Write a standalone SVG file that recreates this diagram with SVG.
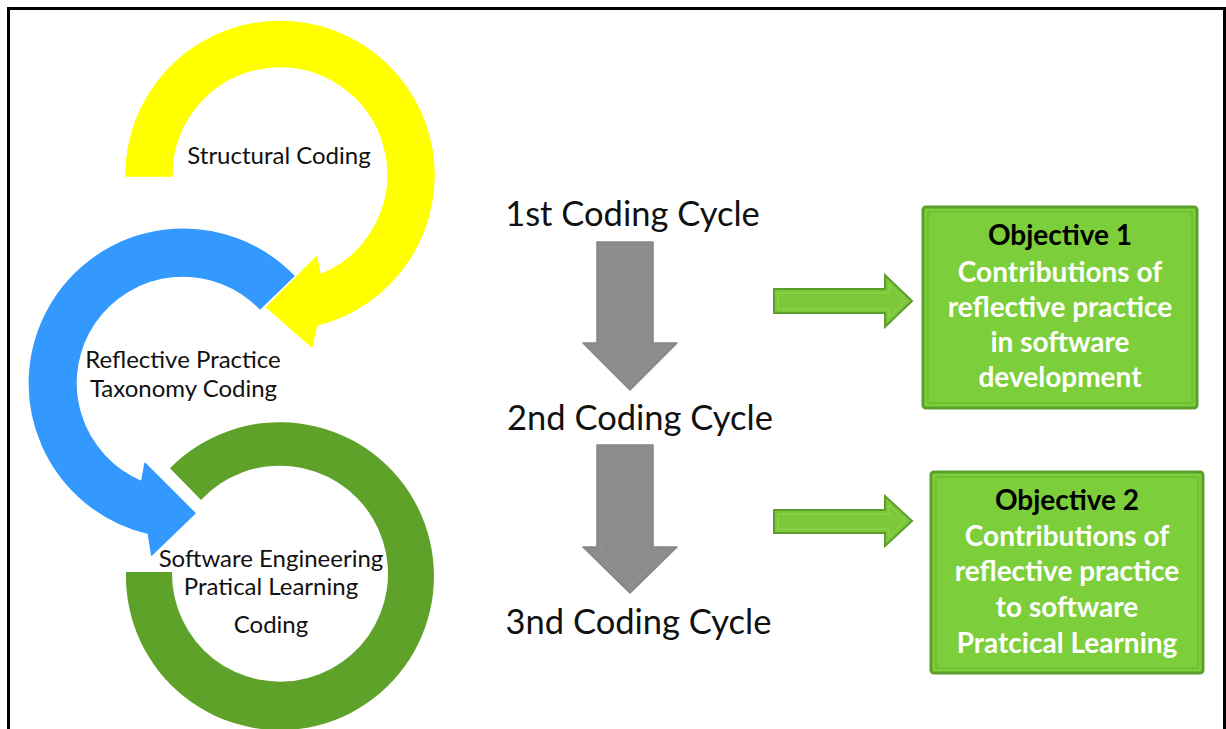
<svg xmlns="http://www.w3.org/2000/svg" width="1226" height="729" viewBox="0 0 1226 729">
<style>
.lbl{font-family:Lato,"Liberation Sans",sans-serif;font-size:24px;fill:#111;text-anchor:middle}
.cyc{font-family:Lato,"Liberation Sans",sans-serif;font-size:34.5px;fill:#111;text-anchor:middle}
.ttl{font-family:Lato,"Liberation Sans",sans-serif;font-size:28px;font-weight:bold;fill:#000;text-anchor:middle}
.wt{font-family:Lato,"Liberation Sans",sans-serif;font-size:28px;font-weight:bold;fill:#fff;text-anchor:middle}
.box{fill:#7ccf3a;stroke:#5c9e2b;stroke-width:3}
.boxin{fill:none;stroke:#6dbb33;stroke-width:1.5}
.garrow{fill:#8c8c8c;stroke:#858585;stroke-width:1.5;stroke-linejoin:round}
.garrowin{fill:none;stroke:#939393;stroke-width:1}
.grarrow{fill:#7cc83a;stroke:#5c9e2b;stroke-width:2}
.grarrowin{fill:none;stroke:#8fd74f;stroke-width:1}
</style>
<rect x="0" y="0" width="1226" height="729" fill="#fff"/>
<path d="M8.5,740 L8.5,8.5 L1224.5,8.5 L1224.5,740" fill="none" stroke="#000" stroke-width="3"/>

<g id="ring-green">
<path d="M126,572 A154,154 0 1 0 170,468.3 L201,500 A108,108 0 1 1 172,572 Z" fill="#5fa22a"/>
</g>
<g id="ring-blue">
<path d="M293.8,276 A154,154 0 1 0 148.3,533.3 L151.7,555 L195,513.3 L145,463.3 L141.7,481.7 A107,107 0 1 1 260,308.7 Z" fill="#3399ff" stroke="#3399ff" stroke-width="1.5" stroke-linejoin="round"/>
</g>
<g id="ring-yellow">
<path d="M126,176 A154,154 0 1 1 316.7,325 L311.7,346.7 L266.7,307.3 L316.7,256.7 L320,275 A108,108 0 1 0 172,176 Z" fill="#ffff00" stroke="#ffff00" stroke-width="1.5" stroke-linejoin="round"/>
</g>

<g id="label-structural"><text class="lbl" x="279" y="164">Structural Coding</text></g>
<g id="label-reflective">
<text class="lbl" x="183" y="368">Reflective Practice</text>
<text class="lbl" x="183.5" y="397">Taxonomy Coding</text>
</g>
<g id="label-software">
<text class="lbl" x="271" y="567">Software Engineering</text>
<text class="lbl" x="271" y="595">Pratical Learning</text>
<text class="lbl" x="271" y="633">Coding</text>
</g>

<g id="cycle1"><text class="cyc" x="632.5" y="226">1st Coding Cycle</text></g>
<g id="cycle2"><text class="cyc" x="640" y="430">2nd Coding Cycle</text></g>
<g id="cycle3"><text class="cyc" x="638.5" y="634">3nd Coding Cycle</text></g>

<g id="connectors">
<path class="garrow" d="M597,242 L653,242 L653,343 L677,343 L630,390 L583,343 L597,343 Z"/>
<path class="garrowin" d="M602,247 L648,247 L648,348 L665,348 L630,383 L595,348 L602,348 Z"/>
<path class="garrow" d="M597,445 L653,445 L653,547 L677,547 L630,593 L583,547 L597,547 Z"/>
<path class="garrowin" d="M602,450 L648,450 L648,552 L665,552 L630,586 L595,552 L602,552 Z"/>
<path class="grarrow" d="M774,289 L885,289 L885,275 L912,301 L885,327 L885,313 L774,313 Z"/>
<path class="grarrowin" d="M778,293 L889,293 L889,284 L905,301 L889,318 L889,309 L778,309 Z"/>
<path class="grarrow" d="M774,510 L885,510 L885,496 L912,521 L885,546 L885,533 L774,533 Z"/>
<path class="grarrowin" d="M778,514 L889,514 L889,505 L905,521 L889,537 L889,529 L778,529 Z"/>
</g>

<g id="objective1">
<rect class="box" x="923" y="207" width="274" height="201" rx="3"/>
<rect class="boxin" x="928" y="212" width="264" height="191"/>
<text class="ttl" x="1060" y="245">Objective 1</text>
<text class="wt" x="1060" y="282">Contributions of</text>
<text class="wt" x="1060" y="317">reflective practice</text>
<text class="wt" x="1060" y="352">in software</text>
<text class="wt" x="1060" y="387">development</text>
</g>
<g id="objective2">
<rect class="box" x="931" y="472" width="272" height="201" rx="3"/>
<rect class="boxin" x="936" y="477" width="262" height="191"/>
<text class="ttl" x="1067" y="510">Objective 2</text>
<text class="wt" x="1067" y="546">Contributions of</text>
<text class="wt" x="1067" y="581">reflective practice</text>
<text class="wt" x="1067" y="617">to software</text>
<text class="wt" x="1067" y="653">Pratcical Learning</text>
</g>
</svg>
